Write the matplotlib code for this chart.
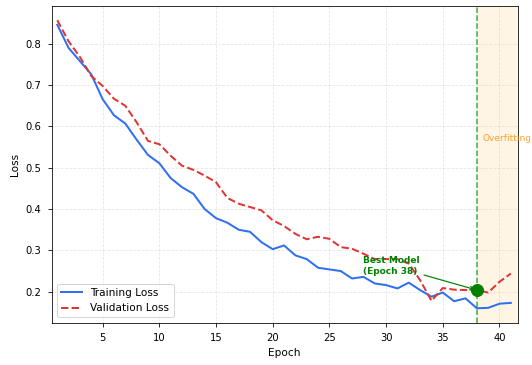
import numpy as np
import matplotlib
matplotlib.use('Agg')
import matplotlib.pyplot as plt

# Loss values
epochs = np.arange(1, 42)
train_loss = [0.846, 0.790, 0.758, 0.726, 0.666, 0.627, 0.607, 0.568, 0.531, 0.511,
              0.475, 0.453, 0.437, 0.400, 0.378, 0.367, 0.350, 0.345, 0.320, 0.303,
              0.312, 0.288, 0.279, 0.258, 0.254, 0.250, 0.232, 0.236, 0.220, 0.216,
              0.208, 0.222, 0.204, 0.188, 0.198, 0.177, 0.184, 0.160, 0.161, 0.171,
              0.173]
val_loss = [0.857, 0.806, 0.768, 0.722, 0.698, 0.667, 0.650, 0.610, 0.565, 0.557,
            0.529, 0.505, 0.495, 0.481, 0.465, 0.427, 0.413, 0.405, 0.397, 0.373,
            0.359, 0.340, 0.327, 0.333, 0.328, 0.308, 0.304, 0.292, 0.279, 0.279,
            0.279, 0.268, 0.228, 0.178, 0.209, 0.205, 0.204, 0.204, 0.198, 0.224,
            0.244]
best_epoch = 38
best_val = val_loss[best_epoch - 1]

plt.rcParams['xtick.major.size'] = 4
plt.rcParams['ytick.major.size'] = 4
plt.rcParams['xtick.major.pad'] = 6
plt.rcParams['ytick.major.pad'] = 6

fig, ax = plt.subplots(figsize=(532 / 72, 365 / 72), dpi=72)
fig.subplots_adjust(left=0.097, right=0.973, bottom=0.116, top=0.984)

ax.plot(epochs, train_loss, color='#2f6ff0', lw=2, label='Training Loss')
ax.plot(epochs, val_loss, color='#e33434', lw=2, ls='--', label='Validation Loss')

# Best model marker and overfitting region
ax.axvline(best_epoch, color='green', ls='--', lw=1.5, alpha=0.7)
ax.axvspan(best_epoch, 41.6, color='orange', alpha=0.1)
ax.plot(best_epoch, best_val, 'o', color='green', markersize=12, zorder=5)
ax.annotate('Best Model\n(Epoch %d)' % best_epoch, xy=(best_epoch, best_val),
            xytext=(best_epoch - 10, best_val + 0.04),
            fontsize=9, fontweight='bold', color='green',
            arrowprops=dict(arrowstyle='->', color='green', lw=1.2))
ax.text(best_epoch + 0.5, 0.57, 'Overfitting', color='darkorange', fontsize=9,
        va='center', alpha=0.8)

ax.set_xlim(0.5, 41.6)
ax.set_xlabel('Epoch', fontsize=10.5, labelpad=5)
ax.set_ylabel('Loss', fontsize=10.5, labelpad=6)
ax.grid(True, ls='--', alpha=0.3)
ax.legend(loc='lower left', fontsize=10.5)

plt.savefig('out.png', dpi=72)
